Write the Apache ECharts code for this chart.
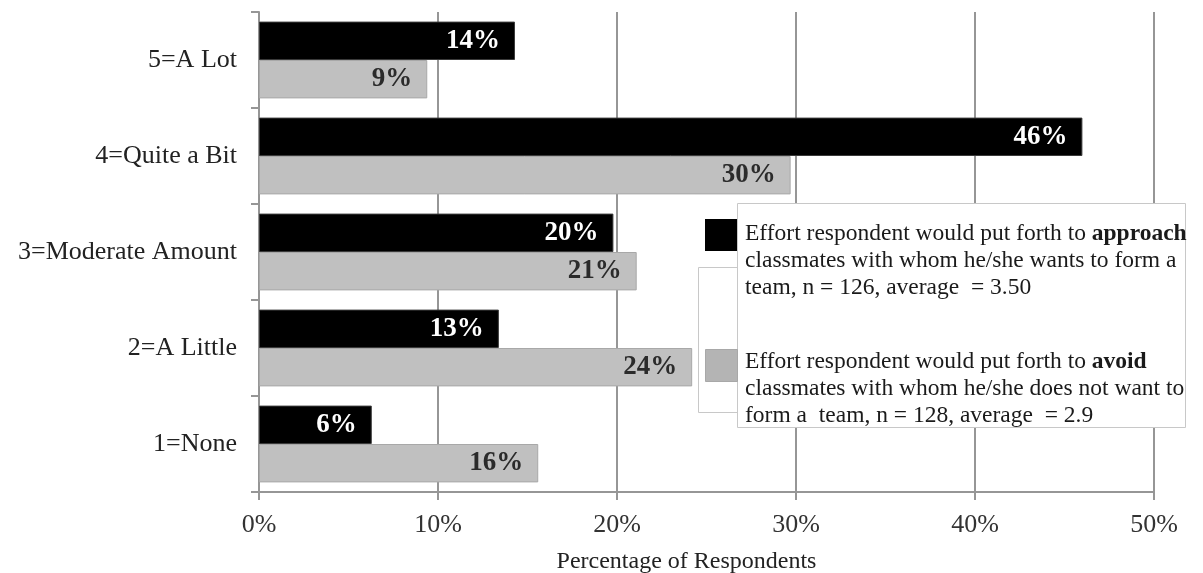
<!DOCTYPE html>
<html>
<head>
<meta charset="utf-8">
<title>Effort to approach or avoid classmates when forming teams</title>
<script src="https://cdn.jsdelivr.net/npm/echarts@6/dist/echarts.min.js"></script>
<style>
  html, body { margin: 0; padding: 0; background: #ffffff; }
  #chart { width: 1203px; height: 573px; }
</style>
</head>
<body>
<div id="chart"></div>
<script>
// Response scale, listed bottom to top
const categories = ['1=None', '2=A Little', '3=Moderate Amount', '4=Quite a Bit', '5=A Lot'];

// Percentage of respondents per response level
const approachPct = [6.3, 13.4, 19.8, 46.0, 14.3];   // n = 126
const avoidPct    = [15.6, 24.2, 21.1, 29.7, 9.4];   // n = 128

const xTicks = { min: 0, max: 50, step: 10 };

const approachLegend = 'Effort respondent would put forth to {b|approach}\nclassmates with whom he/she wants to form a\nteam, n = 126, average  = 3.50';
const avoidLegend = 'Effort respondent would put forth to {b|avoid}\nclassmates with whom he/she does not want to\nform a  team, n = 128, average  = 2.9';
const axisTitle = 'Percentage of Respondents';

const SERIF = '"Liberation Serif", "Times New Roman", serif';
const GRID_GRAY = '#969696';

const chart = echarts.init(document.getElementById('chart'), null, { renderer: 'canvas' });

const barLabel = (color) => ({
  show: true,
  position: 'insideRight',
  distance: 15,
  color: color,
  fontFamily: SERIF,
  fontWeight: 'bold',
  fontSize: 27,
  formatter: (p) => Math.round(p.value) + '%'
});

const legendText = (txt, x, y) => ({
  type: 'text',
  left: x,
  top: y,
  z: 102,
  style: {
    text: txt,
    fontFamily: SERIF,
    fontSize: 23.5,
    lineHeight: 27,
    fill: '#1a1a1a',
    rich: {
      b: { fontFamily: SERIF, fontSize: 23.5, lineHeight: 27, fontWeight: 'bold', fill: '#1a1a1a' }
    }
  }
});

const option = {
  backgroundColor: '#ffffff',
  animation: false,
  grid: { left: 259, right: 49, top: 12, bottom: 81, containLabel: false, outerBoundsMode: 'none' },
  xAxis: {
    type: 'value',
    min: xTicks.min,
    max: xTicks.max,
    interval: xTicks.step,
    name: axisTitle,
    nameLocation: 'middle',
    nameGap: 58,
    nameTextStyle: { fontFamily: SERIF, fontSize: 24, color: '#222', padding: [0, 40, 0, 0] },
    axisLine: { show: true, lineStyle: { color: GRID_GRAY, width: 2 } },
    axisTick: { show: true, length: 8, lineStyle: { color: GRID_GRAY, width: 2 } },
    axisLabel: { formatter: '{value}%', fontFamily: SERIF, fontSize: 26, color: '#333', margin: 20 },
    splitLine: { show: true, lineStyle: { color: GRID_GRAY, width: 2 } }
  },
  yAxis: {
    type: 'category',
    data: categories,
    axisLine: { show: true, lineStyle: { color: GRID_GRAY, width: 2 } },
    axisTick: { show: true, length: 8, alignWithLabel: false, lineStyle: { color: GRID_GRAY, width: 2 } },
    axisLabel: { fontFamily: SERIF, fontSize: 26, color: '#222', margin: 22 },
    splitLine: { show: false }
  },
  series: [
    {
      name: 'approach',
      type: 'bar',
      data: approachPct,
      barGap: '0%',
      barCategoryGap: '20%',
      itemStyle: { color: '#000000', borderColor: '#3a3a3a', borderWidth: 1 },
      label: barLabel('#ffffff')
    },
    {
      name: 'avoid',
      type: 'bar',
      data: avoidPct,
      barGap: '0%',
      barCategoryGap: '20%',
      itemStyle: { color: '#c0c0c0', borderColor: '#a8a8a8', borderWidth: 1 },
      label: barLabel('#2b2b2b')
    }
  ],
  graphic: [
    { type: 'rect', left: 698, top: 267, z: 100,
      shape: { width: 480, height: 145 },
      style: { fill: '#ffffff', stroke: '#c8c8c8', lineWidth: 1 } },
    { type: 'rect', left: 737, top: 203, z: 101,
      shape: { width: 448, height: 224 },
      style: { fill: '#ffffff', stroke: '#c8c8c8', lineWidth: 1 } },
    { type: 'rect', left: 705, top: 219, z: 102,
      shape: { width: 32, height: 32 },
      style: { fill: '#000000' } },
    { type: 'rect', left: 705, top: 349, z: 102,
      shape: { width: 32, height: 32 },
      style: { fill: '#b4b4b4', stroke: '#a8a8a8', lineWidth: 1 } },
    legendText(approachLegend, 745, 220),
    legendText(avoidLegend, 745, 348)
  ]
};

chart.setOption(option);
</script>
</body>
</html>
